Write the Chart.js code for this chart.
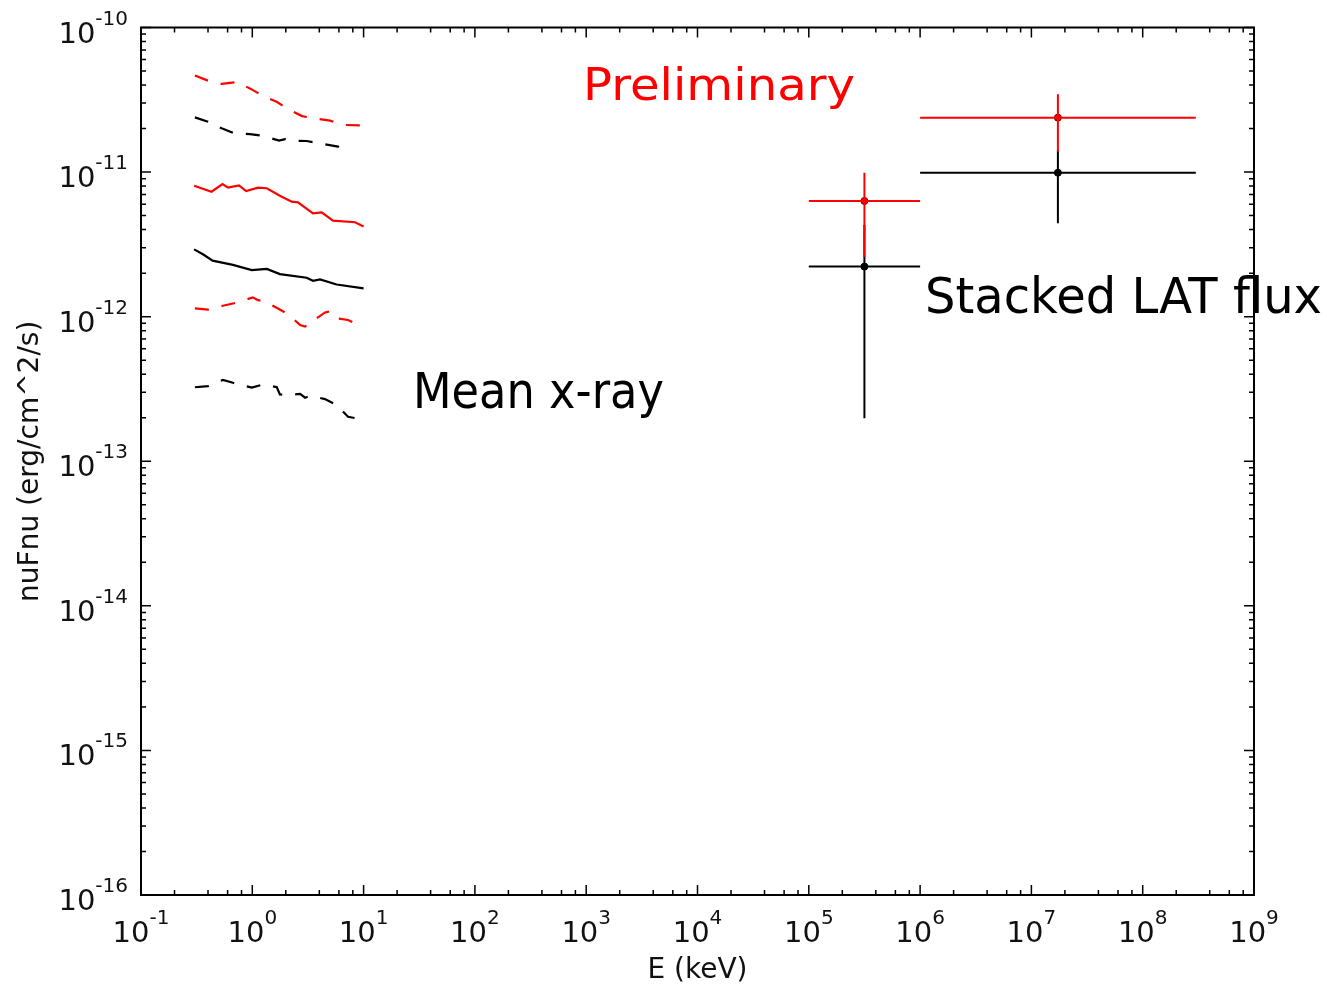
<!DOCTYPE html>
<html>
<head>
<meta charset="utf-8">
<title>Stacked SED</title>
<script src="https://cdn.jsdelivr.net/npm/chart.js@4.4.0/dist/chart.umd.min.js"></script>
<style>
  body { margin: 0; background: #fff; }
  canvas { display: block; }
</style>
</head>
<body>
<canvas id="sedChart" width="1327" height="985"></canvas>
<script>
// decades shown on the axes
var xTickExp = [-1, 0, 1, 2, 3, 4, 5, 6, 7, 8, 9];
var yTickExp = [-16, -15, -14, -13, -12, -11, -10];

// mean x-ray spectrum, E in keV, nuFnu in erg/cm^2/s
var redHighE = [0.305, 0.40, 0.53, 0.73, 0.97, 1.25, 1.67, 2.09, 2.80, 3.74, 4.99, 6.53, 10];
var redHighF = [4.66e-11, 4.29e-11, 4.07e-11, 4.20e-11, 3.76e-11, 3.36e-11, 3.05e-11, 2.73e-11, 2.44e-11, 2.34e-11, 2.27e-11, 2.12e-11, 2.10e-11];

var blackHighE = [0.305, 0.40, 0.53, 0.67, 0.953, 1.25, 1.74, 1.97, 2.26, 3.08, 4.06, 5.89, 6.57, 7.55];
var blackHighF = [2.39e-11, 2.23e-11, 2.01e-11, 1.87e-11, 1.83e-11, 1.78e-11, 1.65e-11, 1.69e-11, 1.65e-11, 1.64e-11, 1.58e-11, 1.50e-11, 1.44e-11, 1.44e-11];

var redMeanE = [0.30, 0.43, 0.54, 0.605, 0.76, 0.88, 1.125, 1.35, 1.77, 2.26, 2.57, 3.51, 4.20, 5.31, 8.37, 10];
var redMeanF = [8.05e-12, 7.32e-12, 8.27e-12, 7.80e-12, 8.10e-12, 7.40e-12, 7.80e-12, 7.73e-12, 6.87e-12, 6.24e-12, 6.18e-12, 5.19e-12, 5.27e-12, 4.61e-12, 4.50e-12, 4.20e-12];

var blackMeanE = [0.30, 0.36, 0.44, 0.67, 0.99, 1.35, 1.77, 3.08, 3.51, 4.06, 5.73, 10];
var blackMeanF = [2.92e-12, 2.70e-12, 2.44e-12, 2.28e-12, 2.10e-12, 2.14e-12, 1.97e-12, 1.86e-12, 1.77e-12, 1.81e-12, 1.67e-12, 1.57e-12];

var redLowE = [0.305, 0.40, 0.545, 0.725, 1.01, 1.125, 1.30, 1.70, 2.09, 2.69, 2.98, 3.42, 4.50, 4.79, 5.17, 7.25, 9.6];
var redLowF = [1.14e-12, 1.12e-12, 1.19e-12, 1.25e-12, 1.36e-12, 1.30e-12, 1.27e-12, 1.14e-12, 1.04e-12, 8.75e-13, 8.53e-13, 9.23e-13, 1.07e-12, 1.08e-12, 9.84e-13, 9.48e-13, 8.60e-13];

var blackLowE = [0.305, 0.40, 0.545, 0.67, 0.99, 1.25, 1.66, 1.77, 2.04, 2.69, 2.98, 3.35, 4.50, 5.73, 7.25, 9.6];
var blackLowF = [3.25e-13, 3.31e-13, 3.65e-13, 3.49e-13, 3.23e-13, 3.40e-13, 3.25e-13, 2.90e-13, 2.87e-13, 2.92e-13, 2.75e-13, 2.84e-13, 2.69e-13, 2.45e-13, 2.03e-13, 1.95e-13];

// stacked LAT bins (keV)
var latE = [3.16e5, 1.73e7];
var latELo = [1e5, 1e6];
var latEHi = [1e6, 3e8];
var latRedF = [6.31e-12, 2.38e-11];
var latRedLo = [2.6e-12, 1.38e-11];
var latRedHi = [9.9e-12, 3.45e-11];
var latBlackF = [2.22e-12, 9.9e-12];
var latBlackLo = [1.98e-13, 4.42e-12];
var latBlackHi = [4.3e-12, 1.42e-11];

var RED = '#ff0000';
var BLACK = '#000000';
var TEXT = '#111111';

function points(xs, ys) {
    return xs.map(function(x, i) { return { x: x, y: ys[i] }; });
}

// horizontal bin width + vertical error, separated by null points
function errorBars(y, lo, hi) {
    var pts = [];
    for (var i = 0; i < latE.length; i++) {
        pts.push({ x: latELo[i], y: y[i] }, { x: latEHi[i], y: y[i] }, { x: latEHi[i], y: null });
        pts.push({ x: latE[i], y: lo[i] }, { x: latE[i], y: hi[i] }, { x: latE[i], y: null });
    }
    return pts;
}

function spectrum(xs, ys, color, dashed) {
    return {
        data: points(xs, ys),
        showLine: true,
        borderColor: color,
        borderWidth: 2.2,
        borderDash: dashed ? [14, 13] : [],
        pointRadius: 0,
        tension: 0,
        order: color === RED ? 0 : 1
    };
}

// draws "10" with a raised exponent
function powLabel(ctx, exp, x, base, align) {
    var head = '10', sup = String(exp);
    ctx.font = '29px "DejaVu Sans"';
    var w1 = ctx.measureText(head).width;
    ctx.font = '20px "DejaVu Sans"';
    var w2 = ctx.measureText(sup).width;
    var start = align === 'right' ? x - w1 - w2 : x - (w1 + w2) / 2;
    ctx.textAlign = 'left';
    ctx.textBaseline = 'alphabetic';
    ctx.font = '29px "DejaVu Sans"';
    ctx.fillText(head, start, base);
    ctx.font = '20px "DejaVu Sans"';
    ctx.fillText(sup, start + w1, base - 18);
}

// text squeezed/stretched to a given width
function fitText(ctx, text, font, color, left, base, width) {
    ctx.save();
    ctx.font = font;
    ctx.fillStyle = color;
    ctx.textAlign = 'left';
    ctx.textBaseline = 'alphabetic';
    var w = ctx.measureText(text).width;
    ctx.translate(left, base);
    ctx.scale(width / w, 1);
    ctx.fillText(text, 0, 0);
    ctx.restore();
}

var frameTicks = {
    id: 'frameTicks',
    afterDatasetsDraw: function(chart) {
        var ctx = chart.ctx, a = chart.chartArea;
        var xs = chart.scales.x, ys = chart.scales.y;
        ctx.save();
        ctx.strokeStyle = BLACK;
        ctx.lineWidth = 1.5;
        ctx.beginPath();
        xTickExp.forEach(function(e, i) {
            var px = xs.getPixelForValue(Math.pow(10, e));
            ctx.moveTo(px, a.bottom); ctx.lineTo(px, a.bottom - 10);
            ctx.moveTo(px, a.top); ctx.lineTo(px, a.top + 10);
            if (i < xTickExp.length - 1) {
                [2, 4, 6, 8].forEach(function(s) {
                    var mx = xs.getPixelForValue(s * Math.pow(10, e));
                    ctx.moveTo(mx, a.bottom); ctx.lineTo(mx, a.bottom - 5);
                    ctx.moveTo(mx, a.top); ctx.lineTo(mx, a.top + 5);
                });
            }
        });
        yTickExp.forEach(function(e, i) {
            var py = ys.getPixelForValue(Math.pow(10, e));
            ctx.moveTo(a.left, py); ctx.lineTo(a.left + 10, py);
            ctx.moveTo(a.right, py); ctx.lineTo(a.right - 10, py);
            if (i < yTickExp.length - 1) {
                [2, 3, 4, 5, 6, 7, 8, 9].forEach(function(s) {
                    var my = ys.getPixelForValue(s * Math.pow(10, e));
                    ctx.moveTo(a.left, my); ctx.lineTo(a.left + 5, my);
                    ctx.moveTo(a.right, my); ctx.lineTo(a.right - 5, my);
                });
            }
        });
        ctx.stroke();
        ctx.lineWidth = 2;
        ctx.strokeRect(a.left, a.top, a.right - a.left, a.bottom - a.top);
        ctx.restore();
    },
    afterDraw: function(chart) {
        var ctx = chart.ctx, a = chart.chartArea;
        var xs = chart.scales.x, ys = chart.scales.y;
        ctx.save();
        ctx.fillStyle = TEXT;
        xTickExp.forEach(function(e) {
            powLabel(ctx, e, xs.getPixelForValue(Math.pow(10, e)), a.bottom + 47, 'center');
        });
        yTickExp.forEach(function(e) {
            powLabel(ctx, e, a.left - 13, ys.getPixelForValue(Math.pow(10, e)) + 15, 'right');
        });

        // axis titles
        ctx.font = '28px "DejaVu Sans"';
        ctx.textAlign = 'center';
        ctx.textBaseline = 'alphabetic';
        ctx.fillText('E (keV)', (a.left + a.right) / 2, 978);
        ctx.translate(38, (a.top + a.bottom) / 2);
        ctx.rotate(-Math.PI / 2);
        ctx.fillText('nuFnu (erg/cm^2/s)', 0, 0);
        ctx.restore();

        fitText(ctx, 'Preliminary', '45px "DejaVu Sans"', RED, 583, 100, 272);
        fitText(ctx, 'Mean x-ray', '50px "Comic Sans MS", "DejaVu Sans"', BLACK, 413, 408, 251);
        fitText(ctx, 'Stacked LAT flux', '50px "Comic Sans MS", "DejaVu Sans"', BLACK, 925, 313, 397);
    }
};

var datasets = [
    spectrum(redHighE, redHighF, RED, true),
    spectrum(blackHighE, blackHighF, BLACK, true),
    spectrum(redMeanE, redMeanF, RED, false),
    spectrum(blackMeanE, blackMeanF, BLACK, false),
    spectrum(redLowE, redLowF, RED, true),
    spectrum(blackLowE, blackLowF, BLACK, true),
    {
        data: errorBars(latRedF, latRedLo, latRedHi),
        showLine: true, spanGaps: false, borderColor: RED, borderWidth: 2,
        pointRadius: 0, order: 0
    },
    {
        data: errorBars(latBlackF, latBlackLo, latBlackHi),
        showLine: true, spanGaps: false, borderColor: BLACK, borderWidth: 2,
        pointRadius: 0, order: 1
    },
    {
        data: points(latE, latRedF),
        showLine: false, pointRadius: 3.5, pointBackgroundColor: RED,
        pointBorderColor: '#600', pointBorderWidth: 1, order: 0
    },
    {
        data: points(latE, latBlackF),
        showLine: false, pointRadius: 3.5, pointBackgroundColor: BLACK,
        pointBorderColor: BLACK, pointBorderWidth: 1, order: 1
    }
];

var chart = new Chart(document.getElementById('sedChart'), {
    type: 'scatter',
    data: { datasets: datasets },
    options: {
        responsive: false,
        animation: false,
        devicePixelRatio: 1,
        layout: { padding: { top: 27.5, right: 73, left: 0, bottom: 0 } },
        plugins: {
            legend: { display: false },
            tooltip: { enabled: false }
        },
        scales: {
            x: {
                type: 'logarithmic',
                min: 1e-1,
                max: 1e9,
                grid: { display: false },
                border: { display: false },
                ticks: { display: false },
                afterBuildTicks: function(scale) {
                    scale.ticks = xTickExp.map(function(e) { return { value: Math.pow(10, e) }; });
                },
                afterFit: function(scale) { scale.height = 90; }
            },
            y: {
                type: 'logarithmic',
                min: 1e-16,
                max: 1e-10,
                grid: { display: false },
                border: { display: false },
                ticks: { display: false },
                afterBuildTicks: function(scale) {
                    scale.ticks = yTickExp.map(function(e) { return { value: Math.pow(10, e) }; });
                },
                afterFit: function(scale) { scale.width = 141; }
            }
        }
    },
    plugins: [frameTicks]
});
</script>
</body>
</html>
